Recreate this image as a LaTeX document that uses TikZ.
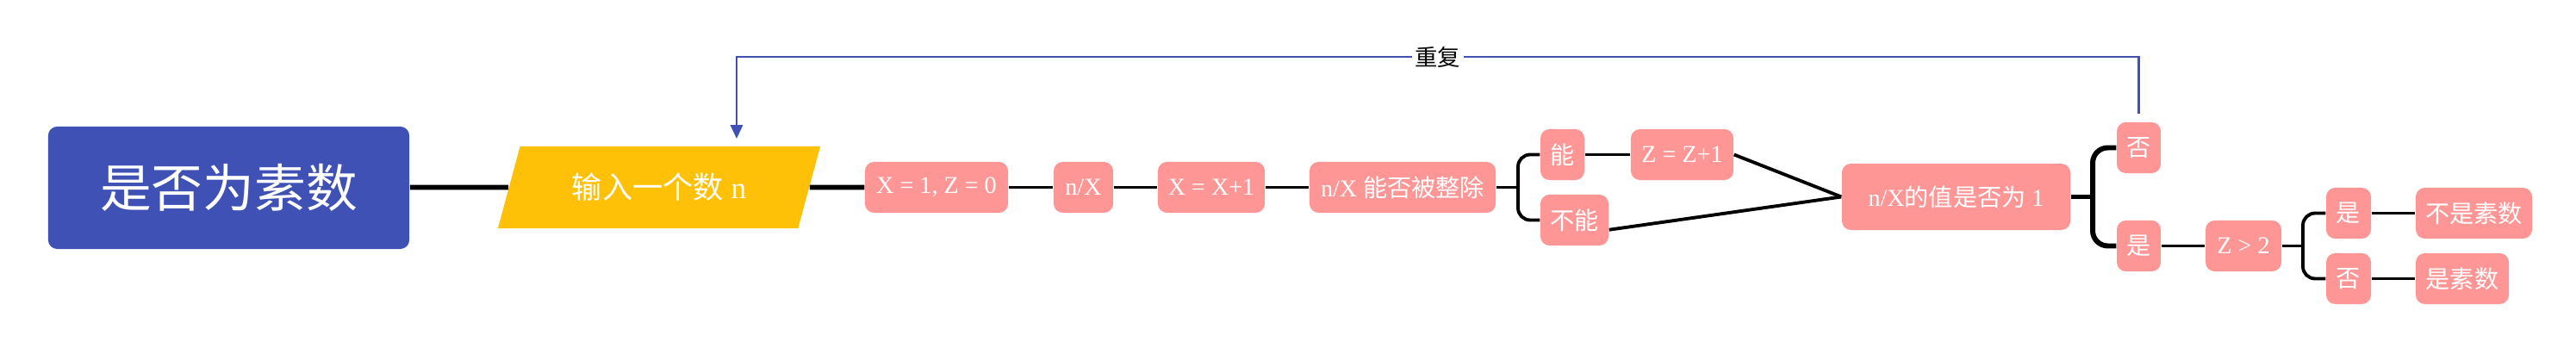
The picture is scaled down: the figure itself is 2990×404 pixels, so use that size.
\documentclass[tikz,border=0pt]{standalone}
\usepackage{fontspec}
\setmainfont{Liberation Serif}
\newfontfamily\cjk{Noto Sans CJK SC}
\usepackage{tikz}
\usetikzlibrary{arrows.meta,shapes.geometric}
\definecolor{rootblue}{HTML}{3F51B5}
\definecolor{inyellow}{HTML}{FFC107}
\definecolor{pinkbox}{HTML}{FF9696}

\begin{document}
\begin{tikzpicture}[x=0.01cm,y=-0.01cm,
  every node/.style={font=\fontsize{8}{10}\selectfont},
  pk/.style={fill=pinkbox,text=white,rounded corners=3pt,inner sep=0pt,minimum height=0.59cm,align=center},
  rootbox/.style={fill=rootblue,text=white,rounded corners=3pt,minimum width=4.19cm,minimum height=1.42cm,
    font=\cjk\fontsize{17}{20}\selectfont},
  inbox/.style={trapezium,trapezium left angle=63.7,trapezium right angle=116.3,trapezium stretches=true,
    fill=inyellow,text=white,inner sep=0pt,minimum width=3.74cm,minimum height=0.95cm,font=\fontsize{10}{12}\selectfont},
  lnk/.style={line width=1.1pt,black},
  lnkb/.style={line width=1.7pt,black},
  loopln/.style={line width=0.8pt,rootblue,-{Triangle[length=4.5pt,width=4pt]}}]
 \useasboundingbox (0,0) rectangle (2990,404);
 % main line
 \node[rootbox] (root) at (265.5,218) {是否为素数};
 \node[inbox] (inp) at (765,217.5) {{\cjk 输入一个数} n};
 \node[pk,minimum width=1.66cm] (x1) at (1087,217.5) {X = 1, Z = 0};
 \node[pk,minimum width=0.69cm] (nx) at (1257.5,217.5) {n/X};
 \node[pk,minimum width=1.24cm] (xx) at (1406,217.5) {X = X+1};
 \node[pk,minimum width=2.16cm] (div) at (1628,217.5) {n/X {\cjk 能否被整除}};
 % divisible or not
 \node[pk,minimum width=0.51cm] (can) at (1813.5,179.5) {\cjk 能};
 \node[pk,minimum width=0.79cm] (cannot) at (1827.5,255.5) {\cjk 不能};
 \node[pk,minimum width=1.19cm] (zz) at (1952.5,179.5) {Z = Z+1};
 \node[pk,minimum width=2.65cm,minimum height=0.77cm] (val) at (2270.5,228.5) {n/X{\cjk 的值是否为} 1};
 % result
 \node[pk,minimum width=0.51cm] (no1) at (2482.5,171.5) {\cjk 否};
 \node[pk,minimum width=0.51cm] (yes1) at (2482.5,285.5) {\cjk 是};
 \node[pk,minimum width=0.88cm] (zg) at (2604,285.5) {Z > 2};
 \node[pk,minimum width=0.52cm] (yes2) at (2726,247.5) {\cjk 是};
 \node[pk,minimum width=0.52cm] (no2) at (2726,323.5) {\cjk 否};
 \node[pk,minimum width=1.35cm] (notp) at (2871.5,247.5) {\cjk 不是素数};
 \node[pk,minimum width=1.08cm] (isp) at (2858,323.5) {\cjk 是素数};
 \coordinate (b1) at (1762,217.5);
 \coordinate (b2) at (2429,228.5);
 \coordinate (b3) at (2673,285.5);
 \coordinate (tp) at (0,66);
 \coordinate (arr) at (855,161);
 \draw[lnkb] (root.east |- inp) -- (inp);
 \draw[lnkb] (inp) -- (x1);
 \foreach \a/\b in {x1/nx,nx/xx,xx/div,can/zz,yes1/zg,yes2/notp,no2/isp} \draw[lnk] (\a) -- (\b);
 \draw[lnk] (div) -- (b1);
 \draw[lnk,rounded corners=4pt] (can.west) -| (b1) |- (cannot.west);
 \draw[lnk] (zz.east) -- (val.west);
 \draw[lnk] ([yshift=-3.2pt]cannot.east) -- (val.west);
 \draw[lnkb] (val) -- (b2);
 \draw[lnkb,rounded corners=5pt] (no1.west) -| (b2) |- (yes1.west);
 \draw[lnk] (zg) -- (b3);
 \draw[lnk,rounded corners=4pt] (yes2.west) -| (b3) |- (no2.west);
 % loop back
 \draw[loopln] ([yshift=2.5pt]no1.north) -- (no1 |- tp) -- node[fill=white,inner sep=1pt,text=black,font=\cjk\fontsize{7.5}{9}\selectfont] {重复} (arr |- tp) -- (arr);
\end{tikzpicture}
\end{document}
